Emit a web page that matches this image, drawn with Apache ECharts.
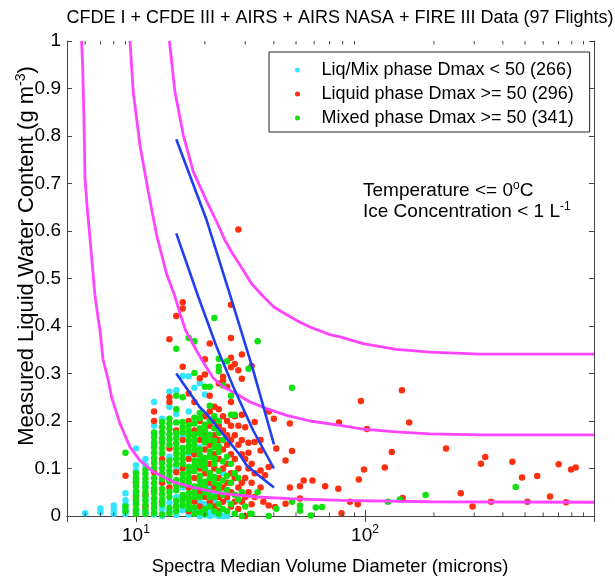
<!DOCTYPE html>
<html><head><meta charset="utf-8">
<script src="https://cdn.jsdelivr.net/npm/echarts@6/dist/echarts.min.js"></script>
<style>html,body{margin:0;padding:0;background:#fff}#c{width:615px;height:579px}</style>
</head><body><div id="c"></div>
<script>
const FONT = "'Liberation Sans',Arial,sans-serif";

const seriesNames = ['Liq/Mix phase Dmax < 50 (266)', 'Liquid phase Dmax >= 50 (296)', 'Mixed phase Dmax >= 50 (341)'];
const yTicks = [0, 0.1, 0.2, 0.3, 0.4, 0.5, 0.6, 0.7, 0.8, 0.9, 1];
const xMajorLabels = [[10, '1'], [100, '2']];
const xMinorTicks = [6, 7, 8, 9, 20, 30, 40, 50, 60, 70, 80, 90, 200, 300, 400, 500, 600, 700, 800, 900];

const cyanPts = [
[6,0.006],[7,0.008],[7,0.016],[8,0.005],[8,0.013],[8,0.022],
[9,0.004],[9,0.014],[9,0.024],[9,0.033],[9,0.048],
[10,0.142],[10,0.107],[10,0.095],[10,0.075],[10,0.05],[10,0.028],[10,0.01],
[11,0.12],[11,0.107],[11,0.062],[11,0.035],[11,0.008],
[12,0.24],[12,0.19],[12,0.175],[12,0.15],[12,0.02],[12,0.003],
[13,0.205],[13,0.16],[13,0.085],[13,0.015],[13,0.0],
[14,0.262],[14,0.23],[14,0.125],[14,0.028],[14,0.01],
[15,0.265],[15,0.215],[15,0.1],[15,0.04],[15,0.002],
[16,0.295],[16,0.17],[16,0.06],[16,0.012],
[17,0.294],[17,0.22],[17,0.13],[17,0.02],[17,0.003],
[18,0.27],[18,0.1],[18,0.012],
[19,0.28],[19,0.145],[19,0.03],[19,0.0],
[20,0.256],[20,0.12],[20,0.025],[20,0.002],
[21,0.06],[21,0.01],[21,0.0],[22,0.045],[22,0.03],[22,0.003],
[23,0.01],[23,0.0],[24,0.09],[24,0.0],[25,0.035],[25,0.0],[26,0.05]
];

const redPts = [
[9,0.085],[10,0.07],[10,0.04],[11,0.045],[11,0.02],
[12,0.22],[12,0.2],[12,0.092],[12,0.052],
[13,0.12],[13,0.07],[13,0.03],
[14,0.372],[14,0.25],[14,0.24],[14,0.142],[14,0.06],
[15,0.421],[15,0.18],[15,0.092],[15,0.02],
[16,0.45],[16,0.437],[16,0.314],[16,0.16],[16,0.1],[16,0.04],
[17,0.258],[17,0.2],[17,0.12],[17,0.06],[17,0.01],
[18,0.24],[18,0.18],[18,0.13],[18,0.08],[18,0.03],
[19,0.29],[19,0.2],[19,0.16],[19,0.1],[19,0.05],[19,0.02],
[20,0.33],[20,0.298],[20,0.21],[20,0.17],[20,0.14],[20,0.09],[20,0.04],
[21,0.363],[21,0.253],[21,0.22],[21,0.19],[21,0.15],[21,0.11],[21,0.07],[21,0.03],
[22,0.23],[22,0.2],[22,0.17],[22,0.13],[22,0.1],[22,0.06],[22,0.02],
[23,0.279],[23,0.225],[23,0.19],[23,0.16],[23,0.12],[23,0.08],[23,0.04],[23,0.01],
[24,0.293],[24,0.284],[24,0.21],[24,0.18],[24,0.14],[24,0.1],[24,0.06],[24,0.03],
[25,0.272],[25,0.2],[25,0.17],[25,0.15],[25,0.11],[25,0.07],[25,0.04],
[26,0.445],[26,0.375],[26,0.333],[26,0.313],[26,0.24],[26,0.19],[26,0.16],[26,0.13],[26,0.09],[26,0.05],[26,0.02],
[27,0.32],[27,0.21],[27,0.17],[27,0.12],[27,0.08],[27,0.03],
[28,0.603],[28,0.307],[28,0.19],[28,0.15],[28,0.1],[28,0.06],[28,0.015],
[29,0.34],[29,0.289],[29,0.213],[29,0.16],[29,0.13],[29,0.07],[29,0.03],
[30,0.187],[30,0.12],[30,0.08],[30,0.04],[30,0.0],
[31,0.154],[31,0.133],[31,0.1],[31,0.05],
[32,0.316],[32,0.11],[32,0.07],[32,0.025],
[33,0.198],[33,0.156],[33,0.09],[33,0.04],
[35,0.16],[35,0.138],[35,0.096],[35,0.06],[36.6,0.086],[36,0.03],
[38,0.22],[38,0.103],[38,0.022],[40,0.205],[40.5,0.019],[41,0.142],
[45,0.117],[45,0.026],[47,0.195],[47,0.06],[48,0.137],
[52,0.0625],[52,0.037],[54,0.075],[59,0.075],[67,0.0625],[76.5,0.0576],
[77,0.197],[79,0.006],[86,0.03],[93,0.025],[94,0.077],[96,0.242],[99,0.098],[102,0.183],
[122,0.102],[131,0.135],[145,0.265],[146,0.038],[156,0.197],[226,0.142],[262,0.048],
[295,0.02],[321,0.11],[335,0.124],[355,0.03],[440,0.114],[485,0.081],[512,0.03],
[565,0.084],[643,0.041],[701,0.109],[755,0.029],[794,0.098],[832,0.102]
];

const greenPts = [
[9,0.133],[9,0.01],[9,0.02],
[10,0.005],[10,0.014],[10,0.024],[10,0.033],[10,0.043],[10,0.052],[10,0.062],[10,0.071],[10,0.08],[10,0.09],
[11,0.004],[11,0.013],[11,0.023],[11,0.032],[11,0.042],[11,0.051],[11,0.06],[11,0.07],[11,0.079],[11,0.089],[11,0.098],
[12,0.006],[12,0.016],[12,0.027],[12,0.037],[12,0.048],[12,0.058],[12,0.069],[12,0.08],[12,0.101],[12,0.112],[12,0.122],[12,0.133],[12,0.144],[12,0.155],[12,0.166],[12,0.176],
[13,0.003],[13,0.024],[13,0.035],[13,0.046],[13,0.057],[13,0.078],[13,0.089],[13,0.1],[13,0.111],[13,0.132],[13,0.143],[13,0.154],[13,0.165],[13,0.176],[13,0.187],[13,0.198],
[14,0.006],[14,0.017],[14,0.04],[14,0.051],[14,0.073],[14,0.084],[14,0.095],[14,0.106],[14,0.117],[14,0.15],[14,0.161],[14,0.172],[14,0.183],[14,0.194],[14,0.205],
[15,0.01],[15,0.021],[15,0.032],[15,0.054],[15,0.065],[15,0.076],[15,0.109],[15,0.12],[15,0.131],[15,0.142],[15,0.153],[15,0.164],[15,0.175],[15,0.197],[15,0.225],[15,0.253],[15,0.352],
[16,0.022],[16,0.033],[16,0.044],[16,0.066],[16,0.077],[16,0.088],[16,0.11],[16,0.121],[16,0.132],[16,0.143],[16,0.176],[16,0.187],[16,0.198],[16,0.25],
[17,0.015],[17,0.026],[17,0.037],[17,0.048],[17,0.07],[17,0.081],[17,0.092],[17,0.103],[17,0.136],[17,0.147],[17,0.158],[17,0.169],[17,0.18],[17,0.191],[17,0.375],
[18,0.005],[18,0.018],[18,0.04],[18,0.051],[18,0.062],[18,0.095],[18,0.106],[18,0.117],[18,0.139],[18,0.15],[18,0.161],[18,0.172],[18,0.195],[18,0.207],[18,0.301],[18,0.368],
[19,0.008],[19,0.04],[19,0.063],[19,0.074],[19,0.085],[19,0.107],[19,0.118],[19,0.129],[19,0.14],[19,0.173],[19,0.184],[19,0.206],[19,0.217],
[20,0.004],[20,0.015],[20,0.05],[20,0.061],[20,0.072],[20,0.1],[20,0.111],[20,0.122],[20,0.155],[20,0.166],[20,0.18],[20,0.192],[20,0.272],
[21,0.02],[21,0.04],[21,0.052],[21,0.08],[21,0.091],[21,0.125],[21,0.136],[21,0.16],[21,0.171],[21,0.2],[21,0.232],[21,0.272],
[22,0.01],[22,0.04],[22,0.07],[22,0.082],[22,0.11],[22,0.121],[22,0.145],[22,0.158],[22,0.185],[22,0.21],[22,0.417],
[23,0.005],[23,0.025],[23,0.055],[23,0.066],[23,0.095],[23,0.135],[23,0.147],[23,0.175],[23,0.2],[23,0.305],[23,0.314],[23,0.331],
[24,0.015],[24,0.045],[24,0.075],[24,0.115],[24,0.16],[24,0.275],
[25,0.01],[25,0.055],[25,0.085],[25,0.125],[25,0.326],
[26,0.025],[26,0.07],[26,0.11],[26,0.213],[26,0.253],
[27,0.005],[27,0.045],[27,0.09],[27,0.213],
[28,0.035],[28,0.08],[29,0.0],[29,0.05],[30,0.02],[31,0.31],[31.5,0.005],[32,0.005],
[34,0.368],[34,0.05],[38,0.0],[41,0.0155],[48,0.27],[48,0.03],
[52,0.011],[52,0.022],[58,0.001],[61,0.018],[65,0.019],
[126,0.03],[142,0.035],[184,0.044],[455,0.061]
];

const curveA = [[5.79,1.0],[5.85,0.95],[5.89,0.893],[5.95,0.8],[5.99,0.711],[6.15,0.64],[6.3,0.585],[6.62,0.465],[6.82,0.42],[6.97,0.39],[7.18,0.33],[7.57,0.286],[7.83,0.25],[8.51,0.195],[9.42,0.145],[10.4,0.117],[11.9,0.093],[14.5,0.072],[18.4,0.058],[24,0.047],[33.7,0.04],[47,0.0366],[78,0.033],[190,0.03],[1000,0.029]];
const curveB = [[9.42,1.0],[9.73,0.893],[10.41,0.781],[11.32,0.683],[12.31,0.592],[13.6,0.51],[14.8,0.462],[15.6,0.425],[16.5,0.39],[18.3,0.35],[20,0.318],[21.8,0.29],[24,0.272],[26.6,0.261],[31.5,0.24],[37.2,0.226],[45.5,0.212],[57.5,0.2],[78,0.191],[98,0.183],[137,0.177],[192,0.173],[318,0.171],[1000,0.171]];
const curveC = [[14.0,1.0],[14.8,0.893],[16.1,0.802],[17.8,0.725],[20.4,0.662],[22.5,0.62],[24.5,0.58],[26.6,0.55],[28.5,0.528],[32,0.489],[36,0.462],[40,0.44],[44,0.428],[52,0.408],[57.5,0.398],[70,0.382],[78,0.377],[98,0.363],[137,0.351],[192,0.345],[318,0.341],[1000,0.341]];
const blueLine1 = [[15,0.793],[20.35,0.623],[26.2,0.454],[32.5,0.307],[40.05,0.151]];
const blueLine2 = [[15,0.595],[18.7,0.462],[22.5,0.356],[26.6,0.272],[32.5,0.18],[40.05,0.1]];
const blueLine3 = [[15,0.3],[19,0.229],[20.35,0.215],[23.3,0.18],[24.9,0.163],[28.5,0.128],[30.4,0.107],[33.6,0.089],[40.05,0.06]];

const C_CYAN = '#33e6ff', C_RED = '#ff3010', C_GREEN = '#11e011', C_MAG = '#ff44ff', C_BLUE = '#1f3ff0';
const AX = '#444';

const chart = echarts.init(document.getElementById('c'), null, {renderer: 'canvas'});

function supRich(base) {
  return {
    b: {fontSize: base, fontFamily: FONT, color: '#000', lineHeight: base + 4},
    s: {fontSize: Math.round(base * 0.65), fontFamily: FONT, color: '#000', verticalAlign: 'top', lineHeight: Math.round(base * 0.65)}
  };
}

const curveSeries = (data) => ({type: 'line', data, showSymbol: false, symbol: 'none', smooth: false, z: 5,
  lineStyle: {color: C_MAG, width: 2.8}, itemStyle: {color: C_MAG}, silent: true});
const blueSeries = (data) => ({type: 'line', data, showSymbol: false, symbol: 'none', smooth: false, z: 6,
  lineStyle: {color: C_BLUE, width: 2.6}, itemStyle: {color: C_BLUE}, silent: true});
const scatterSeries = (name, data, color, z) => ({type: 'scatter', name, data, symbol: 'circle', symbolSize: 6.5, z,
  itemStyle: {color, opacity: 1}, silent: true});

const option = {
  animation: false,
  backgroundColor: '#fff',
  grid: {left: 67, right: 21, top: 41, bottom: 63, containLabel: false},
  xAxis: [
    {type: 'log', logBase: 10, min: 5, max: 1000, position: 'bottom',
      axisLine: {show: true, lineStyle: {color: AX, width: 1}},
      axisTick: {show: true, inside: true, length: 6, lineStyle: {color: AX}},
      splitLine: {show: false}, minorTick: {show: false},
      axisLabel: {margin: 8, rich: supRich(19),
        formatter: (v) => { for (const [val, e] of xMajorLabels) { if (Math.abs(v - val) < 1e-6 * val) return '{b|10}{s|' + e + '}'; } return ''; }}},
    {type: 'log', logBase: 10, min: 5, max: 1000, position: 'top',
      axisLine: {show: true, lineStyle: {color: AX, width: 1}},
      axisTick: {show: true, inside: true, length: 6, lineStyle: {color: AX}},
      splitLine: {show: false}, axisLabel: {show: false}}
  ],
  yAxis: [
    {type: 'value', min: 0, max: 1, interval: 0.1, position: 'left',
      axisLine: {show: true, lineStyle: {color: AX, width: 1}},
      axisTick: {show: true, inside: true, length: 5, lineStyle: {color: AX}},
      splitLine: {show: false},
      axisLabel: {margin: 6, color: '#000', fontSize: 19, fontFamily: FONT,
        formatter: (v) => { const r = Math.round(v * 10) / 10; return (r === 0 || r === 1) ? String(r) : r.toFixed(1); }}},
    {type: 'value', min: 0, max: 1, interval: 0.1, position: 'right',
      axisLine: {show: true, lineStyle: {color: AX, width: 1}},
      axisTick: {show: true, inside: true, length: 5, lineStyle: {color: AX}},
      splitLine: {show: false}, axisLabel: {show: false}}
  ],
  legend: {
    data: seriesNames, orient: 'vertical', left: 269, top: 52,
    padding: [6, 16, 2, 26], itemWidth: 38, itemHeight: 5, itemGap: 0,
    borderColor: '#222', borderWidth: 1, backgroundColor: '#fff', icon: 'circle',
    selectedMode: false,
    textStyle: {fontSize: 18, fontFamily: FONT, color: '#000', lineHeight: 24}
  },
  graphic: [
    {type: 'text', x: 340, y: 18, style: {text: 'CFDE I + CFDE III + AIRS + AIRS NASA + FIRE III Data (97 Flights)', fontSize: 18, fontFamily: FONT, fill: '#000', align: 'center', verticalAlign: 'middle'}},
    {type: 'text', x: 330, y: 567, style: {text: 'Spectra Median Volume Diameter (microns)', fontSize: 18.4, fontFamily: FONT, fill: '#000', align: 'center', verticalAlign: 'middle'}},
    {type: 'text', x: 27, y: 256, rotation: Math.PI / 2, style: {text: '{b|Measured Liquid Water Content (g m}{s|-3}{b|)}', rich: supRich(22), align: 'center', verticalAlign: 'middle'}},
    {type: 'text', x: 363, y: 191, style: {text: '{b|Temperature <= 0}{s|o}{b|C}', rich: supRich(19), align: 'left', verticalAlign: 'middle'}},
    {type: 'text', x: 363, y: 212, style: {text: '{b|Ice Concentration < 1 L}{s|-1}', rich: supRich(19), align: 'left', verticalAlign: 'middle'}}
  ],
  series: [
    scatterSeries(seriesNames[0], cyanPts, C_CYAN, 2),
    scatterSeries(seriesNames[1], redPts, C_RED, 3),
    scatterSeries(seriesNames[2], greenPts, C_GREEN, 4),
    curveSeries(curveA), curveSeries(curveB), curveSeries(curveC),
    blueSeries(blueLine1), blueSeries(blueLine2), blueSeries(blueLine3),
    {type: 'custom', silent: true, z: 7, clip: false,
      data: xMinorTicks.map(v => [v, 0]),
      renderItem: (params, api) => {
        const v = api.value(0);
        const b = api.coord([v, 0]);
        const t = api.coord([v, 1]);
        return {type: 'group', children: [
          {type: 'line', shape: {x1: b[0], y1: b[1], x2: b[0], y2: b[1] - 3.5}, style: {stroke: AX, lineWidth: 1}},
          {type: 'line', shape: {x1: t[0], y1: t[1], x2: t[0], y2: t[1] + 3.5}, style: {stroke: AX, lineWidth: 1}}
        ]};
      }}
  ]
};
chart.setOption(option);
</script></body></html>
